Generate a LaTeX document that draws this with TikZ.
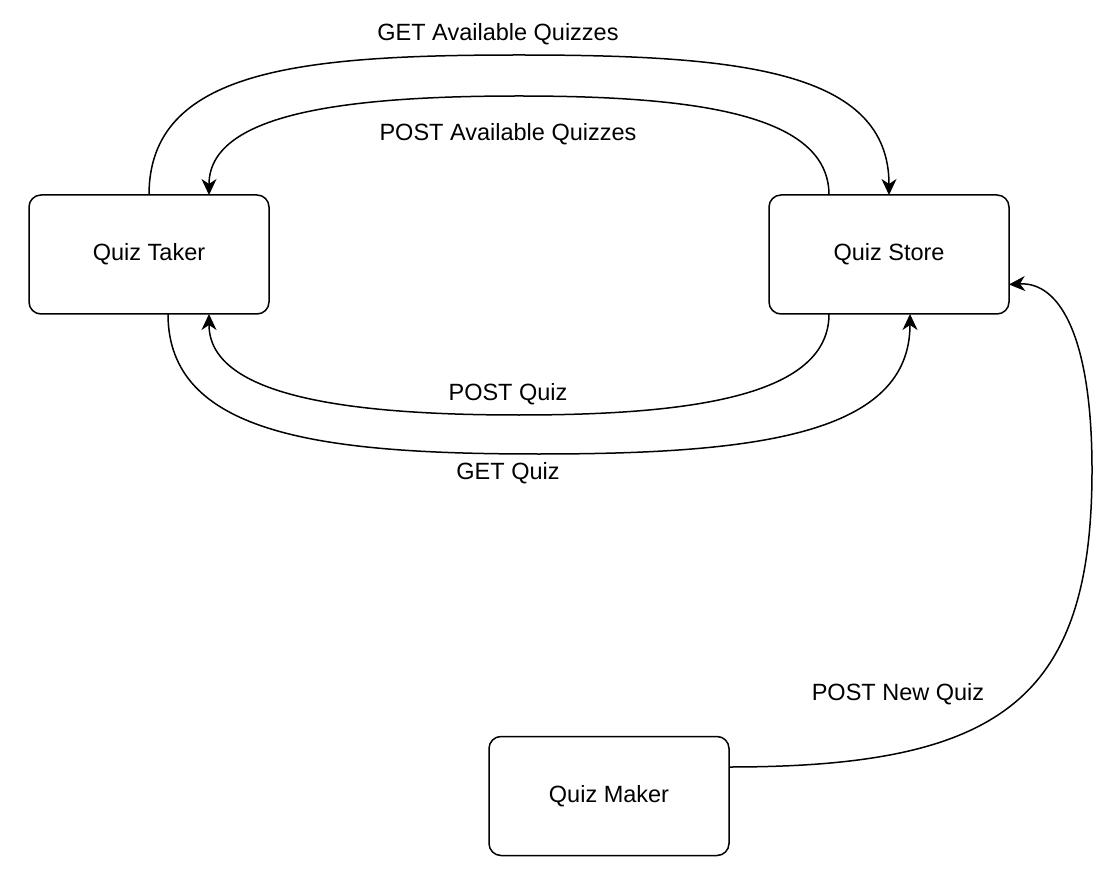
\documentclass[tikz,border=0pt]{standalone}
\usepackage{fontspec}
\setmainfont{Liberation Sans}
\usetikzlibrary{arrows.meta,calc}
\begin{document}
\begin{tikzpicture}[x=1pt,y=-1pt,
  box/.style={draw,line width=1.5pt,rounded corners=12pt,minimum width=240pt,minimum height=119pt,inner sep=0pt,outer sep=0pt,font=\fontsize{23.5}{27}\selectfont},
  lbl/.style={font=\fontsize{23.5}{27}\selectfont,inner sep=0pt},
  arr/.style={line width=1.5pt,-{Stealth[length=16pt,width=15pt,inset=5pt]}}]
\useasboundingbox (0,0) rectangle (1108,882);
\node[box] (taker) at (149,254.5) {Quiz Taker};
\node[box] (store) at (889,254.5) {Quiz Store};
\node[box] (maker) at (609,796) {Quiz Maker};
% GET Available Quizzes
\draw[arr] (taker.north) .. controls +(0,-125) and +(-220,0) .. ($(taker.north)!0.5!(store.north)+(0,-140)$) coordinate (g1)
  .. controls +(220,0) and +(0,-125) .. (store.north);
\node[lbl] (lga) at (498,34) {GET Available Quizzes};
% POST Available Quizzes
\draw[arr] ([xshift=-60pt]store.north) .. controls +(0,-80) and +(180,0) .. ($(taker.north)!0.5!(store.north)+(0,-99)$) coordinate (p1)
  .. controls +(-180,0) and +(0,-80) .. ([xshift=60pt]taker.north);
\node[lbl] (lpa) at (508,134) {POST Available Quizzes};
% POST Quiz
\draw[arr] ([xshift=-60pt]store.south) .. controls +(0,80) and +(180,0) .. ($(taker.south)!0.5!(store.south)+(0,101)$) coordinate (p2)
  .. controls +(-180,0) and +(0,80) .. ([xshift=60pt]taker.south);
\node[lbl] (lpq) at (508,394) {POST Quiz};
% GET Quiz
\draw[arr] ([xshift=19pt]taker.south) .. controls +(0,120) and +(-220,0) .. ($(taker.south)!0.5!(store.south)+(20,140)$) coordinate (g2)
  .. controls +(220,0) and +(0,120) .. ([xshift=21pt]store.south);
\node[lbl] (lgq) at (508,473) {GET Quiz};
% POST New Quiz
\coordinate (nq) at (1092,470);
\draw[arr] ([yshift=29pt]maker.east) .. controls +(271,0) and +(0,230) .. (nq)
  .. controls +(0,-130) and +(52,-3) .. ([yshift=-30pt]store.east);
\node[lbl] (lnq) at (898,694) {POST New Quiz};
\end{tikzpicture}
\end{document}
